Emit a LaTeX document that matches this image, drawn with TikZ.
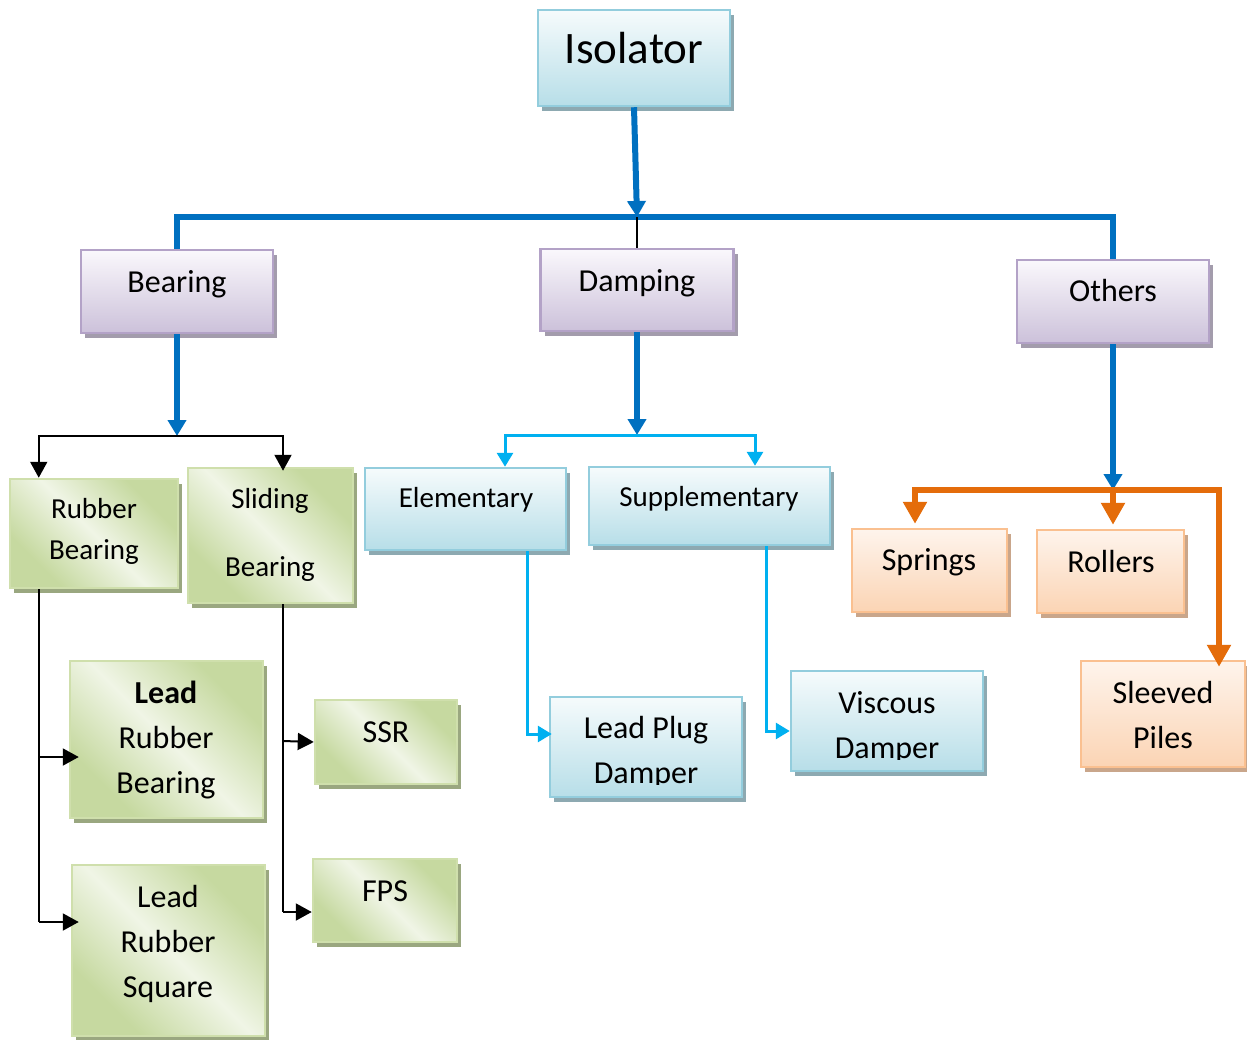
\documentclass[tikz,border=0pt]{standalone}
\usepackage{fontspec}
\setmainfont{Carlito}
\usetikzlibrary{arrows.meta,shadows}

\definecolor{dkblue}{HTML}{0070C0}
\definecolor{ltblue}{HTML}{00B0F0}
\definecolor{orng}{HTML}{E46C0A}
\definecolor{bTop}{HTML}{F6FBFC}
\definecolor{bBot}{HTML}{B7DEE8}
\definecolor{bBd}{HTML}{93CDDD}
\definecolor{bSh}{HTML}{8DA9B1}
\definecolor{pTop}{HTML}{FAF8FC}
\definecolor{pBot}{HTML}{CCC1DA}
\definecolor{pBd}{HTML}{B3A2C7}
\definecolor{pSh}{HTML}{A39CAC}
\definecolor{oTop}{HTML}{FEF4EC}
\definecolor{oBot}{HTML}{FBD4B4}
\definecolor{oBd}{HTML}{FAC090}
\definecolor{oSh}{HTML}{C9A68B}
\definecolor{gA}{HTML}{C6D9A0}
\definecolor{gB}{HTML}{F0F5E6}
\definecolor{gBd}{HTML}{CFDFAC}
\definecolor{gSh}{HTML}{9AA780}

% diagonal green fill: green corners, light band across the middle
\pgfdeclarehorizontalshading{greendiag}{100bp}{color(0bp)=(gA); color(28bp)=(gA); color(50bp)=(gB); color(72bp)=(gA); color(100bp)=(gA)}

\begin{document}
\begin{tikzpicture}[x=1pt,y=-1pt,
  box/.style={rectangle, draw, line width=2.5pt, inner sep=0pt},
  bluebox/.style={box, draw=bBd, top color=bTop, bottom color=bBot,
    drop shadow={shadow xshift=4pt, shadow yshift=-5pt, fill=bSh, opacity=1}},
  purplebox/.style={box, draw=pBd, top color=pTop, bottom color=pBot,
    drop shadow={shadow xshift=4pt, shadow yshift=-5pt, fill=pSh, opacity=1}},
  orangebox/.style={box, draw=oBd, top color=oTop, bottom color=oBot,
    drop shadow={shadow xshift=4pt, shadow yshift=-5pt, fill=oSh, opacity=1}},
  greenbox/.style={box, draw=gBd, shading=greendiag, shading angle=45,
    drop shadow={shadow xshift=4pt, shadow yshift=-5pt, fill=gSh, opacity=1}},
  txt/.style={anchor=base, inner sep=0pt, font=\fontsize{32}{38}\selectfont},
  stxt/.style={anchor=base, inner sep=0pt, font=\fontsize{29}{35}\selectfont},
  dkline/.style={draw=dkblue, line width=6pt},
  dkarrow/.style={dkline, -{Triangle[width=18pt,length=16pt]}},
  ltline/.style={draw=ltblue, line width=3pt},
  ltarrow/.style={ltline, -{Triangle[width=16pt,length=14pt]}},
  bkline/.style={draw=black, line width=2pt},
  bkarrow/.style={bkline, -{Triangle[width=17pt,length=16pt]}},
  orarrow/.style={draw=orng, line width=6pt, -{Triangle[width=23pt,length=22pt]}}
]
\fill[white] (0,0) rectangle (1247,1039);
\useasboundingbox (0,0) rectangle (1247,1039);

% ---- boxes ----
\node[bluebox, minimum width=192pt, minimum height=96pt] (iso) at (634,58) {};
\node[purplebox, minimum width=192pt, minimum height=83pt] (brg) at (177,291.5) {};
\node[purplebox, minimum width=193pt, minimum height=82pt] (dmp) at (637,290) {};
\node[purplebox, minimum width=192pt, minimum height=83pt] (oth) at (1113,301.5) {};

\node[greenbox, minimum width=168pt, minimum height=109pt] (rb) at (94,533.5) {};
\node[greenbox, minimum width=165pt, minimum height=135pt] (sl) at (270.5,535.5) {};
\node[bluebox, minimum width=201pt, minimum height=82pt] (el) at (465.5,509) {};
\node[bluebox, minimum width=241pt, minimum height=78pt] (sup) at (709.5,506) {};
\node[orangebox, minimum width=155pt, minimum height=83pt] (spr) at (929.5,570.5) {};
\node[orangebox, minimum width=147pt, minimum height=83pt] (rol) at (1110.5,571.5) {};
\node[orangebox, minimum width=164pt, minimum height=106pt] (slp) at (1163,714) {};

\node[greenbox, minimum width=193pt, minimum height=157pt] (lrb) at (166.5,739.5) {};
\node[greenbox, minimum width=193pt, minimum height=171pt] (lrs) at (168.5,950.5) {};
\node[greenbox, minimum width=142pt, minimum height=84pt] (ssr) at (386,742) {};
\node[greenbox, minimum width=144pt, minimum height=83pt] (fps) at (385,900.5) {};
\node[bluebox, minimum width=192pt, minimum height=100pt] (lpd) at (646,747) {};
\node[bluebox, minimum width=192pt, minimum height=100pt] (vd) at (887,721) {};

% ---- labels ----
\node[anchor=base, inner sep=0pt, font=\fontsize{45}{54}\selectfont] (iso-t) at (634,63) {Isolator};
\node[txt] (brg-t) at (177,292) {Bearing};
\node[txt] (dmp-t) at (637,291) {Damping};
\node[txt] (oth-t) at (1113,301) {Others};

\node[stxt] (rb-t1) at (94,518) {Rubber};
\node[stxt] (rb-t2) at (94,559) {Bearing};
\node[stxt] (sl-t1) at (270,508) {Sliding};
\node[stxt] (sl-t2) at (270,576) {Bearing};
\node[stxt] (el-t) at (466,507) {Elementary};
\node[stxt] (sup-t) at (709,506) {Supplementary};
\node[txt] (spr-t) at (929,570) {Springs};
\node[txt] (rol-t) at (1111,572) {Rollers};
\node[txt] (slp-t1) at (1163,703) {Sleeved};
\node[txt] (slp-t2) at (1163,748) {Piles};

\node[txt, font=\fontsize{32}{38}\selectfont\bfseries] (lrb-t1) at (166,703) {Lead};
\node[txt] (lrb-t2) at (166,748) {Rubber};
\node[txt] (lrb-t3) at (166,793) {Bearing};
\node[txt] (lrs-t1) at (168,907) {Lead};
\node[txt] (lrs-t2) at (168,952) {Rubber};
\node[txt] (lrs-t3) at (168,997) {Square};
\node[txt] (ssr-t) at (386,742) {SSR};
\node[txt] (fps-t) at (385,901) {FPS};

\node[txt] (lpd-t1) at (646,738) {Lead Plug};
\begin{scope}
  \clip (552,700) rectangle (740,784);
  \node[txt] (lpd-t2) at (646,783) {Damper};
\end{scope}
\node[txt] (vd-t1) at (887,713) {Viscous};
\begin{scope}
  \clip (793,674) rectangle (981,759);
  \node[txt] (vd-t2) at (887,758) {Damper};
\end{scope}

% ---- junction points ----
\coordinate (jTop) at (637,217);
\coordinate (jB) at (177,436);
\coordinate (jD) at (637,435);
\coordinate (jO) at (1113,490);

% ---- top level ----
\draw[dkarrow] (iso.south) -- (jTop);
\draw[dkline] (brg.north) |- (jTop) -| (oth.north);
\draw[bkline] (jTop) -- (dmp.north);

% ---- bearing branch ----
\draw[dkarrow] (brg.south) -- (jB);
\draw[bkarrow] (jB) -| ([xshift=30pt]rb.north west);
\draw[bkarrow] (jB) -| ([xshift=12.5pt,yshift=-4pt]sl.north);
\coordinate (rbA) at ([xshift=30pt]rb.south west |- 0,757);
\coordinate (rbB) at ([xshift=30pt]rb.south west |- 0,922);
\draw[bkline] ([xshift=30pt]rb.south west) -- (rbB);
\draw[bkarrow] (rbA) -- ([xshift=10pt,yshift=-17.5pt]lrb.west);
\draw[bkarrow] (rbB) -- ([xshift=8pt,yshift=28.5pt]lrs.west);
\coordinate (slA) at ([xshift=12.5pt]sl.south |- 0,741);
\coordinate (slB) at ([xshift=12.5pt]sl.south |- 0,912);
\draw[bkline] ([xshift=12.5pt]sl.south) -- (slB);
\draw[bkarrow] (slA) -- (ssr.west);
\draw[bkarrow] (slB) -- ([yshift=-11.5pt]fps.west);

% ---- damping branch ----
\draw[dkarrow] (dmp.south) -- (jD);
\draw[ltarrow] (jD) -| ([xshift=39.5pt]el.north);
\draw[ltarrow] (jD) -| ([xshift=45.5pt]sup.north);
\draw[ltarrow] ([xshift=61.5pt]el.south) |- ([xshift=3pt,yshift=13pt]lpd.west);
\draw[ltarrow] ([xshift=56.5pt]sup.south) |- ([yshift=-10pt]vd.west);

% ---- others branch ----
\draw[dkarrow] (oth.south) -- (jO);
\draw[orarrow] (jO) -| ([xshift=-14.5pt,yshift=4pt]spr.north);
\draw[orarrow] (jO) -- ([xshift=2.5pt,yshift=4pt]rol.north);
\draw[orarrow] (jO) -| ([xshift=56pt,yshift=-7pt]slp.north);
\end{tikzpicture}
\end{document}
